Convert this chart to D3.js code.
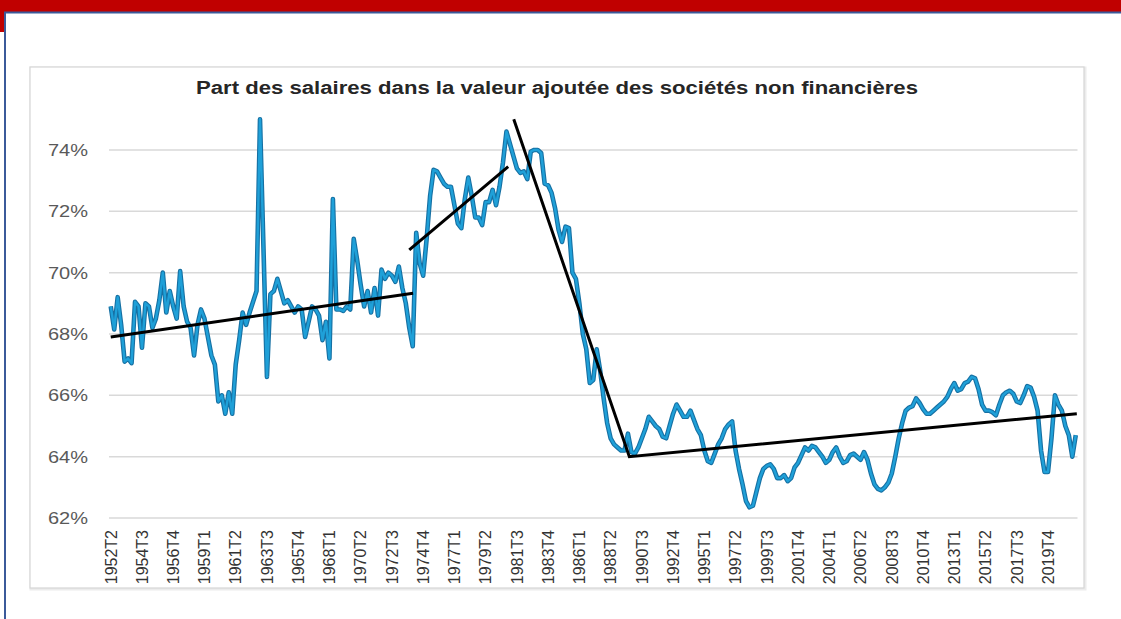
<!DOCTYPE html>
<meta charset="utf-8">
<title>Part des salaires</title>
<style>
  body { margin: 0; background: #fff; }
  text { font-family: "Liberation Sans", Arial, sans-serif; }
  .grid line { stroke: #d9d9d9; stroke-width: 1.5px; }
  .ylab text { fill: #595959; font-size: 17px; }
  .xlab text { fill: #333; font-size: 16px; }
</style>
<body>
<svg width="1121" height="619"></svg>
<script src="https://cdn.jsdelivr.net/npm/d3@7"></script>
<script>

// quarterly values (%), first quarter 1952T2
var startYear = 1952, startQuarter = 2;
var values = [
  68.9, 68.15, 69.2, 68.3, 67.1, 67.2, 67.05, 69.05, 68.9, 67.55,
  69.0, 68.9, 68.2, 68.5, 69.1, 70.0, 68.7, 69.4, 68.9, 68.5,
  70.05, 68.9, 68.4, 68.2, 67.3, 68.3, 68.8, 68.5, 67.9, 67.3,
  67.0, 65.8, 66.0, 65.4, 66.1, 65.4, 67.0, 67.8, 68.7, 68.3,
  68.7, 69.05, 69.4, 75.0, 70.8, 66.6, 69.3, 69.4, 69.8, 69.4,
  69.0, 69.1, 68.9, 68.7, 68.9, 68.8, 67.9, 68.4, 68.9, 68.8,
  68.6, 67.8, 68.4, 67.2, 72.4, 68.8, 68.8, 68.75, 68.9, 68.8,
  71.1, 70.4, 69.6, 68.9, 69.4, 68.7, 69.5, 68.6, 70.1, 69.8,
  70.0, 69.9, 69.7, 70.2, 69.5, 69.0, 68.2, 67.6, 71.3, 70.3,
  69.9, 71.1, 72.5, 73.35, 73.3, 73.1, 72.9, 72.8, 72.8, 72.2,
  71.6, 71.45, 72.4, 73.1, 72.5, 71.8, 71.8, 71.55, 72.3, 72.3,
  72.7, 72.2, 72.8, 73.6, 74.6, 74.2, 73.8, 73.4, 73.25,
  73.3, 73.05, 73.95, 74.0, 74.0, 73.9, 72.9, 72.85, 72.6, 72.1,
  71.4, 71.0, 71.5, 71.45, 70.0, 69.8, 69.0, 68.0, 67.5, 66.4,
  66.5, 67.5, 66.8, 65.9, 65.1, 64.6, 64.4, 64.3, 64.2, 64.2,
  64.75, 64.15, 64.1, 64.3, 64.6, 64.9, 65.3, 65.15, 65.0, 64.9,
  64.65, 64.6, 65.0, 65.4, 65.7, 65.5, 65.3, 65.3, 65.5, 65.2,
  64.9, 64.7, 64.2, 63.85, 63.8, 64.1, 64.4, 64.6, 64.9, 65.05,
  65.15, 64.2, 63.6, 63.1, 62.55, 62.35, 62.4, 62.85, 63.3, 63.6,
  63.7, 63.75, 63.6, 63.3, 63.3, 63.4, 63.2, 63.3, 63.65, 63.8,
  64.05, 64.3, 64.2, 64.35, 64.3, 64.15, 64.0, 63.8, 63.9, 64.15,
  64.3, 64.0, 63.8, 63.85, 64.05, 64.1, 64.0, 63.9, 64.15, 63.9,
  63.45, 63.1, 62.95, 62.9, 63.0, 63.15, 63.45, 64.0, 64.6, 65.1,
  65.5, 65.6, 65.65, 65.9, 65.75, 65.55, 65.4, 65.4, 65.5, 65.6,
  65.7, 65.8, 65.95, 66.2, 66.4, 66.15, 66.2, 66.4, 66.45, 66.6,
  66.55, 66.2, 65.7, 65.5, 65.5, 65.45, 65.35, 65.7, 66.0, 66.1,
  66.15, 66.05, 65.8, 65.75, 66.0, 66.3, 66.25, 65.95, 65.5, 64.2,
  63.5, 63.5, 64.6, 66.0, 65.7, 65.5, 65.0, 64.7, 64.0, 64.7
];

var tickLabels = ["1952T2", "1954T3", "1956T4", "1959T1", "1961T2", "1963T3",
  "1965T4", "1968T1", "1970T2", "1972T3", "1974T4", "1977T1", "1979T2",
  "1981T3", "1983T4", "1986T1", "1988T2", "1990T3", "1992T4", "1995T1",
  "1997T2", "1999T3", "2001T4", "2004T1", "2006T2", "2008T3", "2010T4",
  "2013T1", "2015T2", "2017T3", "2019T4"];

var yTicks = [62, 64, 66, 68, 70, 72, 74];

// trend lines drawn by hand on the original: [quarter index, %]
var trendA = [[0, 67.9], [87.1, 69.33]];
var trendB = [[86, 70.74], [114.5, 73.46]];
var trendC = [[116.1, 75.0], [149.4, 64.0], [278.3, 65.4]];

var title = "Part des salaires dans la valeur ajoutée des sociétés non financières";

var categories = values.map(function(v, i) {
  var q = startQuarter - 1 + i;
  return (startYear + Math.floor(q / 4)) + "T" + (q % 4 + 1);
});

var svg = d3.select("svg");

// slide background
svg.append("rect").attr("x", 0).attr("y", 0).attr("width", 1121).attr("height", 12).attr("fill", "#c00000");
svg.append("rect").attr("x", 0).attr("y", 0).attr("width", 7).attr("height", 32).attr("fill", "#c00000");
svg.append("rect").attr("x", 5).attr("y", 12.5).attr("width", 1130).attr("height", 620)
  .attr("fill", "#fff").attr("stroke", "#3b5a9a").attr("stroke-width", 2);

// chart box
svg.append("rect").attr("x", 31).attr("y", 68).attr("width", 1054).attr("height", 521)
  .attr("fill", "none").attr("stroke", "#ececec").attr("stroke-width", 3);
svg.append("rect").attr("x", 30).attr("y", 67).attr("width", 1054).attr("height", 521)
  .attr("fill", "#fff").attr("stroke", "#d6d6d6").attr("stroke-width", 1.2);

svg.append("text")
  .attr("x", 557).attr("y", 94)
  .attr("text-anchor", "middle")
  .attr("font-size", 18).attr("font-weight", "bold")
  .attr("fill", "#262626")
  .attr("textLength", 722).attr("lengthAdjust", "spacingAndGlyphs")
  .text(title);

var x = d3.scalePoint().domain(categories).range([109, 1077.5]).padding(0.5);
var xi = d3.scaleLinear().domain([0, categories.length - 1])
  .range([x(categories[0]), x(categories[categories.length - 1])]);
var y = d3.scaleLinear().domain([62, 75]).range([518, 119.3]);

svg.append("g").attr("class", "grid")
  .selectAll("line").data(yTicks).enter().append("line")
  .attr("x1", 109).attr("x2", 1077.5)
  .attr("y1", function(d) { return y(d); })
  .attr("y2", function(d) { return y(d); });

svg.append("g").attr("class", "ylab")
  .selectAll("text").data(yTicks).enter().append("text")
  .attr("x", 88).attr("y", function(d) { return y(d); })
  .attr("dy", "0.35em").attr("text-anchor", "end")
  .attr("textLength", 40).attr("lengthAdjust", "spacingAndGlyphs")
  .text(function(d) { return d + "%"; });

svg.append("g").attr("class", "xlab")
  .selectAll("text").data(tickLabels).enter().append("text")
  .attr("transform", function(d) { return "translate(" + x(d) + ",530) rotate(-90)"; })
  .attr("dy", "0.36em").attr("text-anchor", "end")
  .text(function(d) { return d; });

var line = d3.line()
  .x(function(d, i) { return x(categories[i]); })
  .y(function(d) { return y(d); });

svg.append("path").datum(values)
  .attr("fill", "none").attr("stroke", "#1670a3").attr("stroke-width", 4.6)
  .attr("stroke-linejoin", "round").attr("d", line);
svg.append("path").datum(values)
  .attr("fill", "none").attr("stroke", "#1fa0d8").attr("stroke-width", 2.4)
  .attr("stroke-linejoin", "round").attr("d", line);

var trend = d3.line()
  .x(function(d) { return xi(d[0]); })
  .y(function(d) { return y(d[1]); });

[trendA, trendB, trendC].forEach(function(t) {
  svg.append("path").datum(t)
    .attr("fill", "none").attr("stroke", "#000").attr("stroke-width", 3)
    .attr("d", trend);
});

</script>
</body>
